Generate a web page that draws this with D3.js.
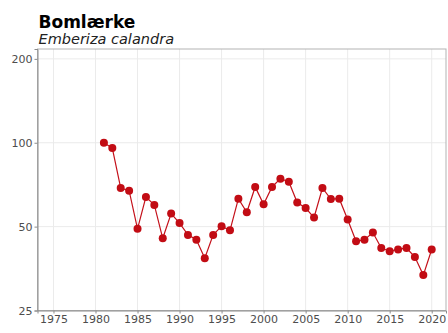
<!DOCTYPE html>
<html lang="da">
<head>
  <meta charset="UTF-8" />
  <title>Bomlærke</title>
  <script src="https://cdn.jsdelivr.net/npm/d3@7/dist/d3.min.js"></script>
  <style>
    body { margin: 0; background: #fff; overflow: hidden; }
    svg { display: block; font-family: "DejaVu Sans", sans-serif; }
  </style>
</head>
<body>
<svg id="svg"></svg>
<script>
  const years = [1981, 1982, 1983, 1984, 1985, 1986, 1987, 1988, 1989, 1990,
    1991, 1992, 1993, 1994, 1995, 1996, 1997, 1998, 1999, 2000,
    2001, 2002, 2003, 2004, 2005, 2006, 2007, 2008, 2009, 2010,
    2011, 2012, 2013, 2014, 2015, 2016, 2017, 2018, 2019, 2020];
  const index = [100, 95.7, 68.8, 67.3, 49.1, 63.9, 59.8, 45.4, 55.7, 51.5,
    46.7, 44.9, 38.5, 46.7, 50.2, 48.5, 63.0, 56.3, 69.4, 60.1,
    69.4, 74.3, 72.5, 61.0, 58.3, 53.9, 68.8, 62.8, 63.0, 53.0,
    44.3, 44.9, 47.6, 41.9, 40.8, 41.4, 41.9, 38.9, 33.5, 41.4];
  const xTicks = [1975, 1980, 1985, 1990, 1995, 2000, 2005, 2010, 2015, 2020];
  const yTicks = [25, 50, 100, 200];

  const width = 448;
  const height = 333;
  const margin = { top: 49, right: 2, bottom: 22.5, left: 37.5 };
  const innerWidth = width - margin.left - margin.right;
  const innerHeight = height - margin.top - margin.bottom;

  const svg = d3.select("#svg").attr("width", width).attr("height", height);

  const g = svg.append("g")
    .attr("transform", `translate(${margin.left}, ${margin.top})`);

  const xScale = d3.scaleLinear().domain([1973.1, 2021.7]).range([0, innerWidth]);
  const yScale = d3.scaleLog().domain([25, 217]).range([innerHeight, 0]);

  // grid
  g.selectAll(".vgrid").data(xTicks).join("line")
    .attr("x1", d => xScale(d)).attr("x2", d => xScale(d))
    .attr("y1", 0).attr("y2", innerHeight)
    .attr("stroke", "#ebebeb").attr("stroke-width", 1);
  g.selectAll(".hgrid").data(yTicks).join("line")
    .attr("x1", 0).attr("x2", innerWidth)
    .attr("y1", d => yScale(d)).attr("y2", d => yScale(d))
    .attr("stroke", "#ebebeb").attr("stroke-width", 1);

  // panel border
  g.append("rect")
    .attr("width", innerWidth).attr("height", innerHeight)
    .attr("fill", "none").attr("stroke", "#b3b3b3").attr("stroke-width", 1);

  // axes
  const xAxis = d3.axisBottom(xScale).tickValues(xTicks).tickFormat(d3.format("d"))
    .tickSize(3).tickPadding(2);
  const yAxis = d3.axisLeft(yScale).tickValues(yTicks).tickFormat(d3.format("d"))
    .tickSize(3).tickPadding(2);

  const gx = g.append("g").attr("transform", `translate(0, ${innerHeight})`).call(xAxis);
  const gy = g.append("g").call(yAxis);
  [gx, gy].forEach(a => {
    a.select(".domain").attr("stroke", "#8c8c8c");
    a.selectAll(".tick line").attr("stroke", "#8c8c8c");
    a.selectAll(".tick text").attr("fill", "#4d4d4d").attr("font-size", "11px")
      .attr("font-family", "DejaVu Sans, sans-serif");
  });

  // series
  const pts = years.map((y, i) => [y, index[i]]);
  const line = d3.line().x(d => xScale(d[0])).y(d => yScale(d[1]));
  g.append("path").datum(pts)
    .attr("d", line).attr("fill", "none")
    .attr("stroke", "#c4101a").attr("stroke-width", 1.2);
  g.selectAll(".pt").data(pts).join("circle")
    .attr("cx", d => xScale(d[0])).attr("cy", d => yScale(d[1]))
    .attr("r", 4).attr("fill", "#c20c14");

  // titles
  svg.append("text").text("Bomlærke")
    .attr("x", margin.left + 1).attr("y", 27.5)
    .attr("font-size", "17px").attr("font-weight", "bold").attr("fill", "#000");
  svg.append("text").text("Emberiza calandra")
    .attr("x", margin.left + 1).attr("y", 44)
    .attr("font-size", "14.5px").attr("font-style", "italic").attr("fill", "#222");
</script>
</body>
</html>
